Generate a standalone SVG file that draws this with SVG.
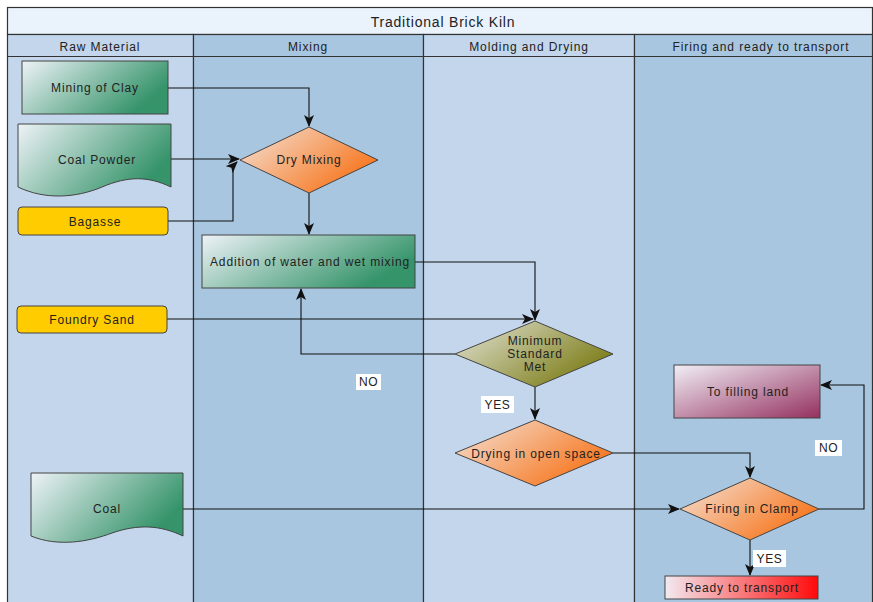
<svg xmlns="http://www.w3.org/2000/svg" width="873" height="602" viewBox="0 0 873 602">
<defs>
<linearGradient id="gGreen" x1="0" y1="0" x2="1" y2="0.45"><stop offset="0" stop-color="#eef2f7"/><stop offset="1" stop-color="#35946a"/></linearGradient>
<linearGradient id="gOrange" x1="0" y1="0" x2="1" y2="0.6"><stop offset="0" stop-color="#f4e4da"/><stop offset="1" stop-color="#f7751c"/></linearGradient>
<linearGradient id="gOlive" x1="0" y1="0" x2="1" y2="0.6"><stop offset="0" stop-color="#e4e6da"/><stop offset="1" stop-color="#7d7d18"/></linearGradient>
<linearGradient id="gPurple" x1="0" y1="0" x2="1" y2="1"><stop offset="0" stop-color="#f1eff6"/><stop offset="1" stop-color="#94305f"/></linearGradient>
<linearGradient id="gRed" x1="0" y1="0" x2="1" y2="0"><stop offset="0" stop-color="#f2eaf0"/><stop offset="1" stop-color="#ff0a0a"/></linearGradient>
<marker id="arr" viewBox="0 0 12 10" refX="11" refY="5" markerWidth="12" markerHeight="10" markerUnits="userSpaceOnUse" orient="auto">
<path d="M0,0 L12,5 L0,10 L3,5 Z" fill="#111"/>
</marker>
<style>
.lane{stroke:#333;stroke-width:1.2}
.light{fill:#c3d6ec}
.dark{fill:#a9c6e1}
.node{stroke:#444;stroke-width:1}
text{font-family:"Liberation Sans",Arial,sans-serif;fill:#222;text-anchor:middle;dominant-baseline:central}
.t{font-size:12px;letter-spacing:0.85px}
.h{font-size:12px;letter-spacing:0.9px}
.title{font-size:14px;letter-spacing:0.8px}
.lbl{font-size:12px;letter-spacing:0.6px}
.c{fill:none;stroke:#111;stroke-width:1.1}
.lb{fill:#fff}
</style>
</defs>
<rect width="873" height="602" fill="#fff"/>
<g id="pool">
<rect x="7.5" y="7.5" width="865" height="27" fill="#eaf2fc" class="lane"/>
<text class="title" x="443" y="21.5">Traditional Brick Kiln</text>
<rect x="7.5" y="34.5" width="186" height="580" class="light lane"/>
<rect x="193.5" y="34.5" width="230" height="580" class="dark lane"/>
<rect x="423.5" y="34.5" width="211" height="580" class="light lane"/>
<rect x="634.5" y="34.5" width="238" height="580" class="dark lane"/>
<line x1="7.5" y1="56.5" x2="872.5" y2="56.5" class="lane"/>
<text class="h" x="100" y="46.5">Raw Material</text>
<text class="h" x="308" y="46.5">Mixing</text>
<text class="h" x="529" y="46.5">Molding and Drying</text>
<text class="h" x="761" y="46.5">Firing and ready to transport</text>
</g>
<g id="connectors">
<path class="c" d="M168,88 H309 V126" marker-end="url(#arr)"/>
<path class="c" d="M171,159 H239" marker-end="url(#arr)"/>
<path class="c" d="M168,221 H233 V166 L237,162" marker-end="url(#arr)"/>
<path class="c" d="M309,193 V234" marker-end="url(#arr)"/>
<path class="c" d="M415,262 H535 V320" marker-end="url(#arr)"/>
<path class="c" d="M167,319 H533" marker-end="url(#arr)"/>
<path class="c" d="M455,354 H301 V289" marker-end="url(#arr)"/>
<path class="c" d="M535,387 V419" marker-end="url(#arr)"/>
<path class="c" d="M613,453 H750 V477" marker-end="url(#arr)"/>
<path class="c" d="M183,509 H679" marker-end="url(#arr)"/>
<path class="c" d="M819,509 H864 V385 H821" marker-end="url(#arr)"/>
<path class="c" d="M750,540 V575" marker-end="url(#arr)"/>
<rect class="lb" x="356" y="374" width="25" height="16"/>
<text class="lbl" x="368.5" y="382">NO</text>
<rect class="lb" x="481" y="396" width="33" height="17"/>
<text class="lbl" x="497.5" y="405">YES</text>
<rect class="lb" x="815" y="440" width="27" height="16"/>
<text class="lbl" x="828.5" y="448">NO</text>
<rect class="lb" x="753" y="550" width="33" height="17"/>
<text class="lbl" x="769.5" y="559">YES</text>
</g>
<g id="mining">
<rect class="node" x="22" y="61" width="146" height="53" fill="url(#gGreen)"/>
<text class="t" x="95" y="88">Mining of Clay</text>
</g>
<g id="coalPowder">
<path class="node" d="M18,124 H171 V187 C148,176 128,176 102,187 C76,198 45,200 18,187 Z" fill="url(#gGreen)"/>
<text class="t" x="97" y="160">Coal Powder</text>
</g>
<g id="bagasse">
<rect class="node" x="18" y="207" width="150" height="28" rx="4" fill="#ffcc00"/>
<text class="t" x="95" y="222">Bagasse</text>
</g>
<g id="foundrySand">
<rect class="node" x="17" y="306" width="150" height="27" rx="4" fill="#ffcc00"/>
<text class="t" x="92" y="320">Foundry Sand</text>
</g>
<g id="coal">
<path class="node" d="M31,473 H183 V536 C160,525 138,524 112,533 C88,542 58,547 31,536 Z" fill="url(#gGreen)"/>
<text class="t" x="107" y="509">Coal</text>
</g>
<g id="dryMixing">
<polygon class="node" points="309,127 378,160 309,193 240,160" fill="url(#gOrange)"/>
<text class="t" x="309" y="160">Dry Mixing</text>
</g>
<g id="wetMixing">
<rect class="node" x="202" y="235" width="213" height="53" fill="url(#gGreen)"/>
<text class="t" x="310" y="262">Addition of water and wet mixing</text>
</g>
<g id="minStandard">
<polygon class="node" points="535,321 613,354 535,387 455,354" fill="url(#gOlive)"/>
<text class="t" x="535" y="341">Minimum</text>
<text class="t" x="535" y="354">Standard</text>
<text class="t" x="535" y="367">Met</text>
</g>
<g id="drying">
<polygon class="node" points="535,420 613,453 535,486 455,453" fill="url(#gOrange)"/>
<text class="t" x="536" y="454">Drying in open space</text>
</g>
<g id="fillingLand">
<rect class="node" x="674" y="365" width="146" height="53" fill="url(#gPurple)"/>
<text class="t" x="748" y="392">To filling land</text>
</g>
<g id="firing">
<polygon class="node" points="750,478 819,509 750,540 680,509" fill="url(#gOrange)"/>
<text class="t" x="752" y="509">Firing in Clamp</text>
</g>
<g id="ready">
<rect class="node" x="665" y="576" width="153" height="23" fill="url(#gRed)"/>
<text class="t" x="742" y="588">Ready to transport</text>
</g>
</svg>
